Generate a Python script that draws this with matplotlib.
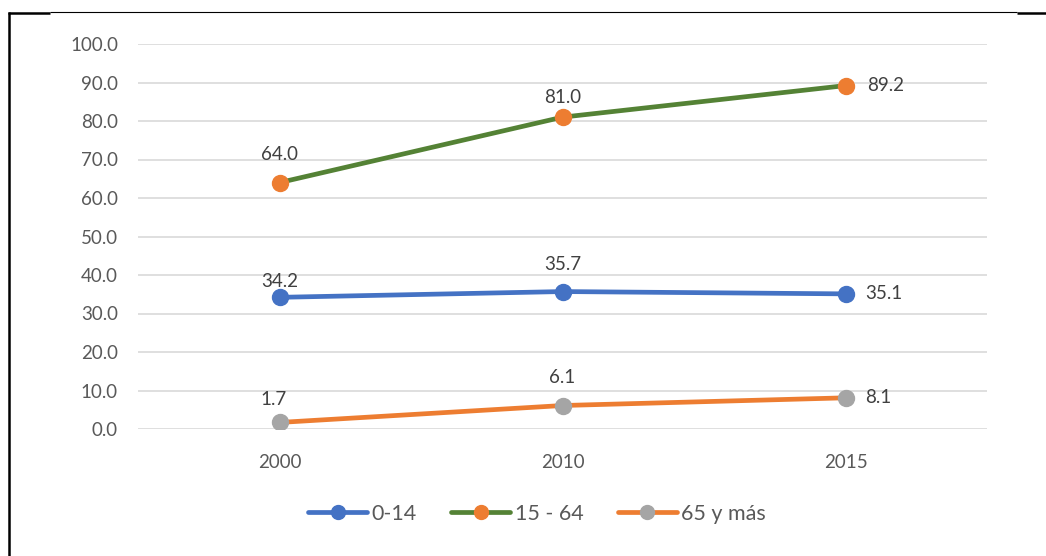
import matplotlib
matplotlib.use("Agg")
import matplotlib.pyplot as plt
from matplotlib.lines import Line2D

plt.rcParams['font.family'] = ['Lato', 'DejaVu Sans']

# Data
years = ["2000", "2010", "2015"]
series_names = ["0-14", "15 - 64", "65 y más"]
vals_0_14 = [34.2, 35.7, 35.1]
vals_15_64 = [64.0, 81.0, 89.2]
vals_65 = [1.7, 6.1, 8.1]
y_ticks = [0, 10, 20, 30, 40, 50, 60, 70, 80, 90, 100]

# Styles: (line colour, marker colour)
styles = [("#4472C4", "#4472C4"), ("#548235", "#ED7D31"), ("#ED7D31", "#A5A5A5")]
# Per-point label offsets in pixels (dx, dy) and alignment
label_offsets = [
    [(0, 16, 'center'), (0, 27, 'center'), (20, 0, 'left')],
    [(0, 28, 'center'), (0, 20, 'center'), (22, 0, 'left')],
    [(-6, 23, 'center'), (0, 28, 'center'), (20, 0, 'left')],
]

W, H = 1046, 556
fig = plt.figure(figsize=(W / 100, H / 100), dpi=100)
fig.patch.set_facecolor("white")

left, right, top, bottom = 138, 987, 44, 429
ax = fig.add_axes([left / W, (H - bottom) / H, (right - left) / W, (bottom - top) / H])

x = [0.5, 1.5, 2.5]
all_vals = [vals_0_14, vals_15_64, vals_65]
text_color = "#404040"
for name, vals, (lc, mc), offs in zip(series_names, all_vals, styles, label_offsets):
    ax.plot(x, vals, color=lc, lw=3.4, marker="o", markersize=11.5,
            markerfacecolor=mc, markeredgecolor=mc, label=name, zorder=3,
            solid_capstyle="round")
    for xi, v, (dx, dy, ha) in zip(x, vals, offs):
        ax.annotate(f"{v:.1f}", (xi, v), xytext=(dx * 0.72, dy * 0.72),
                    textcoords="offset points", ha=ha, va="center",
                    fontsize=13.5, color=text_color, zorder=4)

ax.set_xlim(0, 3)
ax.set_ylim(0, 100)
ax.set_yticks(y_ticks)
ax.set_yticklabels([f"{t:.1f}" for t in y_ticks])
ax.set_xticks(x)
ax.set_xticklabels(years)
ax.tick_params(axis="both", length=0, labelsize=13.5, labelcolor="#595959")
ax.tick_params(axis="y", pad=14.4)
ax.tick_params(axis="x", pad=18)
ax.grid(axis="y", color="#D9D9D9", lw=1.2, zorder=0)
ax.set_axisbelow(True)
for s in ax.spines.values():
    s.set_visible(False)

leg = ax.legend(loc="center", bbox_to_anchor=(537 / W, (H - 514) / H),
                bbox_transform=fig.transFigure, ncol=3, frameon=False,
                fontsize=15.5, handlelength=2.75, numpoints=1, columnspacing=1.6,
                handletextpad=0.2, labelcolor="#595959")
for ln in leg.get_lines():
    ln.set_markersize(10)

# Frame lines around the chart
def fl(x0, x1, y0, y1, lw):
    fig.add_artist(Line2D([x0 / W, x1 / W], [1 - y0 / H, 1 - y1 / H],
                          transform=fig.transFigure, color="black", lw=lw,
                          solid_capstyle="butt"))

fl(8.5, 8.5, 11.5, 556, 1.8)
fl(7.5, 50, 12.5, 12.5, 1.8)
fl(50, 1017, 12.2, 12.2, 0.8)
fl(1017, 1046, 12.5, 12.5, 1.8)

# Title descender clipped by the top edge
fig.text(505 / W, 1 + 3 / H, "y", ha="center", va="baseline", fontsize=14,
         color="black")

fig.savefig("out.png", dpi=100)
